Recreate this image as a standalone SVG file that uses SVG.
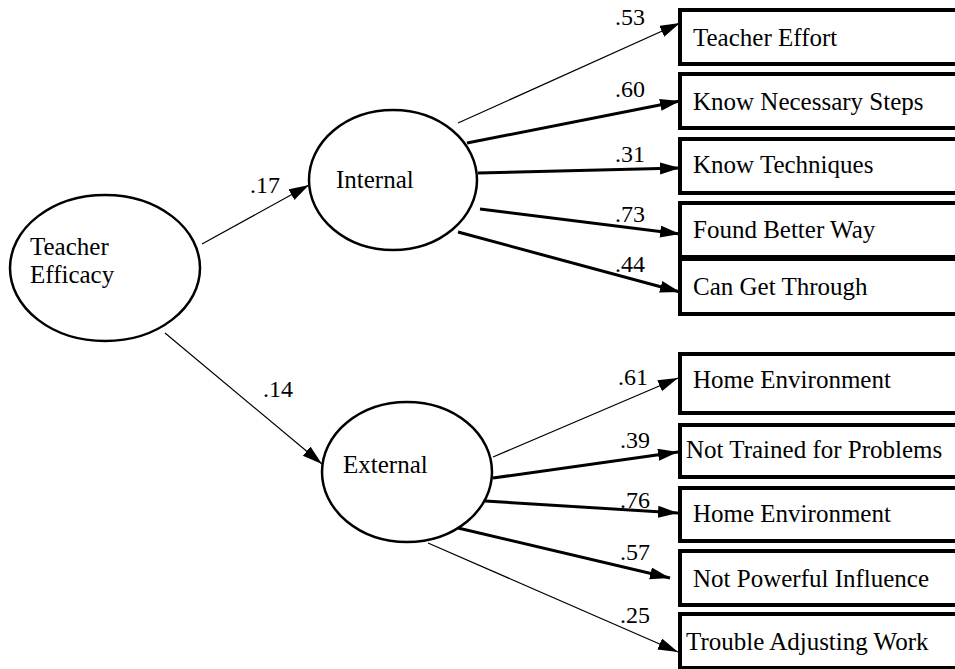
<svg xmlns="http://www.w3.org/2000/svg" width="955" height="669" viewBox="0 0 955 669">
  <style>
    .latent { fill: #fff; stroke: #000; stroke-width: 2.5; }
    .box { fill: #fff; stroke: #000; stroke-width: 4; }
    .lbl { font-family: 'Liberation Serif', 'Times New Roman', serif; font-size: 25px; fill: #000; }
    .coef { font-family: 'Liberation Serif', 'Times New Roman', serif; font-size: 24px; fill: #000; }
    .thin { stroke: #000; stroke-width: 1.2; fill: none; marker-end: url(#arrow); }
    .thick { stroke: #000; stroke-width: 3; fill: none; marker-end: url(#arrow); }
  </style>
  <defs>
    <marker id="arrow" markerUnits="userSpaceOnUse" markerWidth="22" markerHeight="14" refX="20" refY="6" orient="auto">
      <path d="M0,0 L20,6 L0,12 z" fill="#000"/>
    </marker>
  </defs>

  <rect width="955" height="669" fill="#fff"/>

  <!-- paths between factors and indicators -->
  <g id="connectors">
    <line class="thin" x1="202" y1="244" x2="309" y2="185"/>
    <line class="thin" x1="165" y1="333" x2="322" y2="464"/>

    <line class="thin" x1="458" y1="123" x2="680" y2="23"/>
    <line class="thick" x1="467" y1="143" x2="680" y2="101"/>
    <line class="thick" x1="478" y1="173" x2="680" y2="168"/>
    <line class="thick" x1="480" y1="209" x2="680" y2="234"/>
    <line class="thick" x1="458" y1="232" x2="680" y2="292"/>

    <line class="thin" x1="493" y1="457" x2="678" y2="378"/>
    <line class="thick" x1="493" y1="478" x2="678" y2="452"/>
    <line class="thick" x1="485" y1="501" x2="678" y2="513"/>
    <line class="thick" x1="458" y1="528" x2="670" y2="578"/>
    <line class="thin" x1="428" y1="543" x2="678" y2="652"/>

    <text class="coef" x="250" y="193">.17</text>
    <text class="coef" x="263" y="397">.14</text>
    <text class="coef" x="615" y="25">.53</text>
    <text class="coef" x="615" y="97">.60</text>
    <text class="coef" x="615" y="162">.31</text>
    <text class="coef" x="615" y="222">.73</text>
    <text class="coef" x="615" y="272">.44</text>
    <text class="coef" x="618" y="385">.61</text>
    <text class="coef" x="620" y="448">.39</text>
    <text class="coef" x="620" y="508">.76</text>
    <text class="coef" x="620" y="560">.57</text>
    <text class="coef" x="620" y="623">.25</text>
  </g>

  <!-- latent factors -->
  <g id="teacher-efficacy">
    <ellipse class="latent" cx="105" cy="268" rx="95" ry="73"/>
    <text class="lbl" x="30" y="255">Teacher</text>
    <text class="lbl" x="30" y="283">Efficacy</text>
  </g>
  <g id="internal">
    <ellipse class="latent" cx="393" cy="180" rx="84" ry="70"/>
    <text class="lbl" x="336" y="188">Internal</text>
  </g>
  <g id="external">
    <ellipse class="latent" cx="407" cy="472" rx="85" ry="70"/>
    <text class="lbl" x="343" y="473">External</text>
  </g>

  <!-- observed indicators -->
  <g id="teacher-effort">
    <rect class="box" x="680" y="10" width="300" height="54"/>
    <text class="lbl" x="693" y="46">Teacher Effort</text>
  </g>
  <g id="know-necessary-steps">
    <rect class="box" x="680" y="74" width="300" height="54"/>
    <text class="lbl" x="693" y="110">Know Necessary Steps</text>
  </g>
  <g id="know-techniques">
    <rect class="box" x="680" y="139" width="300" height="54"/>
    <text class="lbl" x="693" y="173">Know Techniques</text>
  </g>
  <g id="found-better-way">
    <rect class="box" x="680" y="203" width="300" height="54"/>
    <text class="lbl" x="693" y="238">Found Better Way</text>
  </g>
  <g id="can-get-through">
    <rect class="box" x="680" y="259" width="300" height="55"/>
    <text class="lbl" x="693" y="295">Can Get Through</text>
  </g>
  <g id="home-environment-1">
    <rect class="box" x="680" y="354" width="300" height="59"/>
    <text class="lbl" x="693" y="388">Home Environment</text>
  </g>
  <g id="not-trained-for-problems">
    <rect class="box" x="680" y="425" width="300" height="52"/>
    <text class="lbl" x="686" y="458">Not Trained for Problems</text>
  </g>
  <g id="home-environment-2">
    <rect class="box" x="680" y="488" width="300" height="53"/>
    <text class="lbl" x="693" y="522">Home Environment</text>
  </g>
  <g id="not-powerful-influence">
    <rect class="box" x="680" y="551" width="300" height="54"/>
    <text class="lbl" x="693" y="587">Not Powerful Influence</text>
  </g>
  <g id="trouble-adjusting-work">
    <rect class="box" x="680" y="614" width="300" height="54"/>
    <text class="lbl" x="686" y="650">Trouble Adjusting Work</text>
  </g>
</svg>
